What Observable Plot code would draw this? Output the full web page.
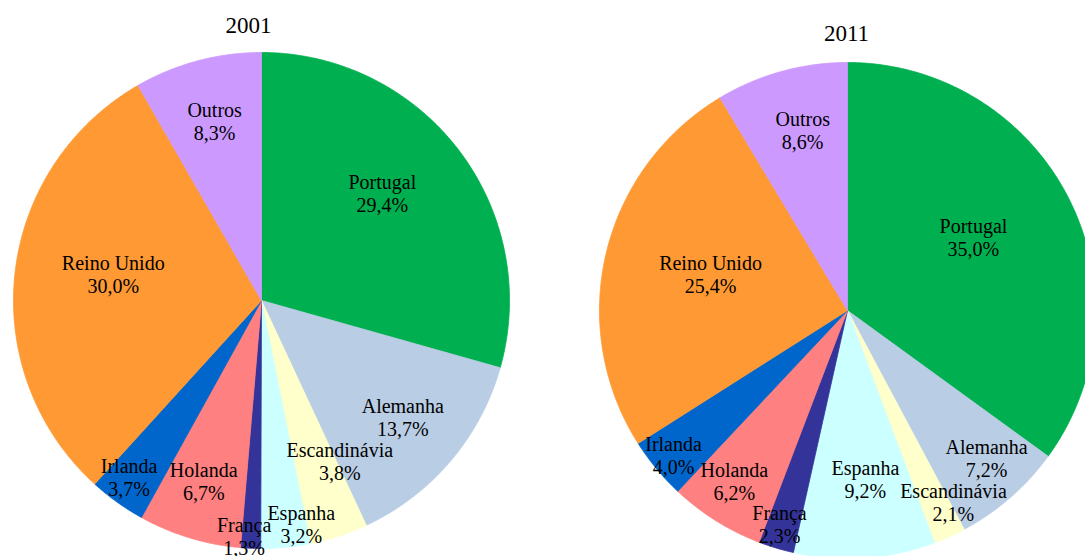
<!DOCTYPE html>
<html>
<head>
<meta charset="utf-8">
<script src="https://cdn.jsdelivr.net/npm/d3@7"></script>
<script src="https://cdn.jsdelivr.net/npm/@observablehq/plot@0.6"></script>
<style>
  html, body { margin: 0; padding: 0; background: #fff; overflow: hidden; }
  #chart svg { display: block; }
  #chart svg text { font-family: "Liberation Serif", "DejaVu Serif", serif !important; }
</style>
</head>
<body>
<div id="chart"></div>
<script>
// ---- data ----
const years = ["2001", "2011"];
const categories = ["Portugal", "Alemanha", "Escandinávia", "Espanha", "França", "Holanda", "Irlanda", "Reino Unido", "Outros"];
const values2001 = [29.4, 13.7, 3.8, 3.2, 1.3, 6.7, 3.7, 30.0, 8.3];
const values2011 = [35.0, 7.2, 2.1, 9.2, 2.3, 6.2, 4.0, 25.4, 8.6];
const colors = ["#00B050", "#B9CDE5", "#FFFFCC", "#CCFFFF", "#333399", "#FF8080", "#0066CC", "#FF9933", "#CC99FF"];

// ---- layout (pixel units of the drawing area) ----
const W = 1085, H = 556;
const pies = [
  {cx: 261, cy: 300, r: 248, titleX: 248, titleY: 25},
  {cx: 847, cy: 310, r: 248, titleX: 846, titleY: 33}
];
const labelShift = [
  [-4.4, -0.8, -7.8, -4.5, 1.7, 0.8, 1.3, 3.8, 0.3],
  [-3.1, -2.2, -4.6, -2.1, 0.9, 1.5, -0.2, 1.4, 1.5]
];
const labelRadius = [
  [0.651, 0.739, 0.721, 0.917, 0.954, 0.766, 0.889, 0.607, 0.749],
  [0.587, 0.819, 0.884, 0.685, 0.905, 0.826, 0.913, 0.571, 0.748]
];

const seriesValues = [values2001, values2011];
const fmt = v => v.toFixed(1).replace(".", ",") + "%";
const rad = d => d * Math.PI / 180;

const slicePts = [];
const labels = [];
const titles = [];
seriesValues.forEach((vals, p) => {
  const {cx, cy, r} = pies[p];
  const total = d3.sum(vals);
  let acc = 0;
  vals.forEach((v, i) => {
    const a0 = acc / total * 360;
    acc += v;
    const a1 = acc / total * 360;
    const id = years[p] + "-" + categories[i];
    slicePts.push({id, cat: categories[i], x: cx, y: cy});
    const n = Math.max(2, Math.ceil((a1 - a0) / 0.5));
    for (let k = 0; k <= n; k++) {
      const a = rad(a0 + (a1 - a0) * k / n);
      slicePts.push({id, cat: categories[i], x: cx + r * Math.sin(a), y: cy - r * Math.cos(a)});
    }
    slicePts.push({id, cat: categories[i], x: cx, y: cy});
    const am = rad((a0 + a1) / 2 + labelShift[p][i]);
    const lr = r * labelRadius[p][i];
    labels.push({x: cx + lr * Math.sin(am), y: cy - lr * Math.cos(am), text: categories[i] + "\n" + fmt(v)});
  });
  titles.push({x: pies[p].titleX, y: pies[p].titleY, text: years[p]});
});

const chart = Plot.plot({
  width: W,
  height: H,
  margin: 0,
  x: {domain: [0, W], axis: null},
  y: {domain: [H, 0], axis: null},
  color: {domain: categories, range: colors},
  style: {background: "#fff", fontFamily: "'Liberation Serif', serif"},
  marks: [
    Plot.line(slicePts, {x: "x", y: "y", z: "id", fill: "cat", stroke: "cat", strokeWidth: 0.8, curve: "linear"}),
    Plot.text(labels, {x: "x", y: "y", text: "text", fill: "#000", fontSize: 20, lineHeight: 1.15, lineAnchor: "middle", textAnchor: "middle"}),
    Plot.text(titles, {x: "x", y: "y", text: "text", fill: "#000", fontSize: 23, lineAnchor: "middle", textAnchor: "middle"})
  ]
});
document.getElementById("chart").appendChild(chart);
</script>
</body>
</html>
